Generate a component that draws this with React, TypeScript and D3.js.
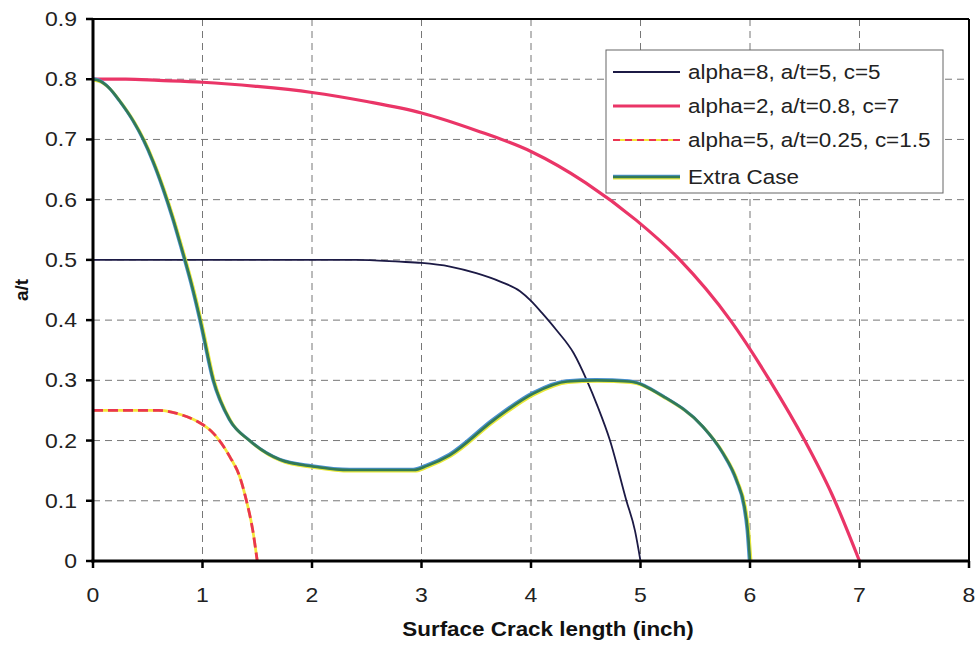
import React from "react";
import * as d3 from "d3";

const xTicks = [0, 1, 2, 3, 4, 5, 6, 7, 8];
const yTicks = [0, 0.1, 0.2, 0.3, 0.4, 0.5, 0.6, 0.7, 0.8, 0.9];

const navyX = [0, 1, 2, 2.4, 2.8, 3.0, 3.26, 3.5, 3.72, 3.9, 4.0, 4.1, 4.23, 4.39, 4.51, 4.61, 4.72, 4.87, 4.95, 5.0];
const navyY = [0.5, 0.5, 0.5, 0.5, 0.497, 0.495, 0.489, 0.478, 0.464, 0.448, 0.432, 0.412, 0.384, 0.345, 0.3, 0.256, 0.201, 0.101, 0.05, 0];

const pinkX = [0, 0.3, 0.6, 1, 1.5, 2, 2.5, 3, 3.5, 4, 4.5, 4.96, 5.36, 5.82, 6.18, 6.5, 6.75, 7.0];
const pinkY = [0.8, 0.8, 0.798, 0.795, 0.788, 0.778, 0.763, 0.744, 0.715, 0.68, 0.628, 0.566, 0.5, 0.4, 0.3, 0.2, 0.11, 0];

const dashX = [0, 0.3, 0.6, 0.82, 0.95, 1.1, 1.25, 1.34, 1.4, 1.46, 1.5];
const dashY = [0.25, 0.25, 0.25, 0.242, 0.232, 0.212, 0.173, 0.14, 0.101, 0.05, 0];

const greenX = [0, 0.064, 0.15, 0.247, 0.37, 0.46, 0.55, 0.64, 0.73, 0.81, 0.9, 0.98, 1.1, 1.25, 1.43, 1.71, 2.01, 2.35, 2.93, 3.05, 3.26, 3.66, 4.02, 4.33, 4.6, 4.9, 5.21, 5.57, 5.75, 5.88, 5.95, 5.98, 6.0];
const greenY = [0.8, 0.797, 0.785, 0.763, 0.73, 0.7, 0.663, 0.619, 0.569, 0.519, 0.46, 0.4, 0.3, 0.234, 0.2, 0.168, 0.157, 0.151, 0.151, 0.158, 0.176, 0.234, 0.278, 0.298, 0.3, 0.298, 0.273, 0.223, 0.18, 0.133, 0.09, 0.05, 0];

const legendLabels = [
  "alpha=8, a/t=5, c=5",
  "alpha=2, a/t=0.8, c=7",
  "alpha=5, a/t=0.25, c=1.5",
  "Extra Case",
];

const W = 978;
const H = 653;
const M = { left: 93, right: 969, top: 19, bottom: 561 };
const SX = 1.15;

export default function App() {
  const x = d3.scaleLinear().domain([0, 8]).range([M.left, M.right]);
  const y = d3.scaleLinear().domain([0, 0.9]).range([M.bottom, M.top]);
  const mk = (xs: number[], ys: number[]) =>
    d3
      .line<number>()
      .x((_, i) => x(xs[i]))
      .y((_, i) => y(ys[i]))
      .curve(d3.curveMonotoneX)(xs.map((v) => v)) as string;

  const navyPath = mk(navyX, navyY);
  const pinkPath = mk(pinkX, pinkY);
  const dashPath = mk(dashX, dashY);
  const greenPath = mk(greenX, greenY);

  const font = "'Liberation Sans', Arial, sans-serif";
  const lg = { x: 606, y: 50, w: 337, h: 143 };
  const rowY = [72, 106, 140, 177];
  const tr = (px: number, py: number) => `translate(${px},${py}) scale(${SX},1)`;

  return (
    <svg width={W} height={H} style={{ position: "absolute", left: 0, top: 0, background: "#fff" }} fontFamily={font}>
      <rect x={0} y={0} width={W} height={H} fill="#fff" />
      {yTicks.filter((t) => t > 0 && t < 0.9).map((t) => (
        <line key={"gy" + t} x1={M.left} x2={M.right} y1={y(t)} y2={y(t)} stroke="#777" strokeWidth={1} strokeDasharray="7,5" />
      ))}
      {xTicks.filter((t) => t > 0 && t < 8).map((t) => (
        <line key={"gx" + t} x1={x(t)} x2={x(t)} y1={M.top} y2={M.bottom} stroke="#777" strokeWidth={1} strokeDasharray="7,5" />
      ))}
      <line x1={M.left} x2={M.right} y1={M.top} y2={M.top} stroke="#000" strokeWidth={2} />
      <line x1={M.right} x2={M.right} y1={M.top} y2={M.bottom} stroke="#000" strokeWidth={2} />
      <path d={navyPath} fill="none" stroke="#1c1a45" strokeWidth={1.8} />
      <path d={pinkPath} fill="none" stroke="#ea3567" strokeWidth={3.2} />
      <path d={dashPath} fill="none" stroke="#f5e63a" strokeWidth={2.8} />
      <path d={dashPath} fill="none" stroke="#ea3550" strokeWidth={2.8} strokeDasharray="10,5" />
      <path d={greenPath} fill="none" stroke="#e8e83a" strokeWidth={3} transform="translate(1,1)" />
      <path d={greenPath} fill="none" stroke="#4a90d0" strokeWidth={3} transform="translate(-0.8,-0.8)" />
      <path d={greenPath} fill="none" stroke="#337a55" strokeWidth={2.6} />
      <line x1={M.left} x2={M.left} y1={M.top} y2={M.bottom + 1.5} stroke="#000" strokeWidth={3} />
      <line x1={M.left - 1.5} x2={M.right + 1} y1={M.bottom} y2={M.bottom} stroke="#000" strokeWidth={3} />
      {yTicks.map((t) => (
        <g key={"ty" + t}>
          <line x1={M.left - 7} x2={M.left} y1={y(t)} y2={y(t)} stroke="#000" strokeWidth={2.5} />
          <text transform={tr(M.left - 16, y(t))} dy="0.35em" textAnchor="end" fontSize={20} fill="#222">
            {t === 0 ? "0" : t.toFixed(1)}
          </text>
        </g>
      ))}
      {xTicks.map((t) => (
        <g key={"tx" + t}>
          <line x1={x(t)} x2={x(t)} y1={M.bottom} y2={M.bottom + 7} stroke="#000" strokeWidth={2.5} />
          <text transform={tr(x(t), 602)} textAnchor="middle" fontSize={20} fill="#222">
            {t}
          </text>
        </g>
      ))}
      <text transform={tr(548, 636)} textAnchor="middle" fontSize={19.5} fontWeight="bold" fill="#111">
        Surface Crack length (inch)
      </text>
      <text transform="translate(28,290) rotate(-90)" textAnchor="middle" fontSize={19} fontWeight="bold" fill="#111">
        a/t
      </text>
      <rect x={lg.x} y={lg.y} width={lg.w} height={lg.h} fill="#fff" stroke="#666" strokeWidth={1} />
      <line x1={613} x2={680} y1={rowY[0]} y2={rowY[0]} stroke="#1c1a45" strokeWidth={1.8} />
      <line x1={613} x2={680} y1={rowY[1]} y2={rowY[1]} stroke="#ea3567" strokeWidth={3.2} />
      <line x1={613} x2={680} y1={rowY[2]} y2={rowY[2]} stroke="#f5e63a" strokeWidth={2.2} />
      <line x1={613} x2={680} y1={rowY[2]} y2={rowY[2]} stroke="#ea3550" strokeWidth={2.2} strokeDasharray="7,5" />
      <line x1={613} x2={680} y1={rowY[3] + 1} y2={rowY[3] + 1} stroke="#e8e83a" strokeWidth={3} />
      <line x1={613} x2={680} y1={rowY[3] - 0.8} y2={rowY[3] - 0.8} stroke="#4a90d0" strokeWidth={3} />
      <line x1={613} x2={680} y1={rowY[3]} y2={rowY[3]} stroke="#337a55" strokeWidth={2.6} />
      {legendLabels.map((l, i) => (
        <text key={l} transform={tr(688, rowY[i])} dy="0.35em" fontSize={19.5} fill="#222">
          {l}
        </text>
      ))}
    </svg>
  );
}
